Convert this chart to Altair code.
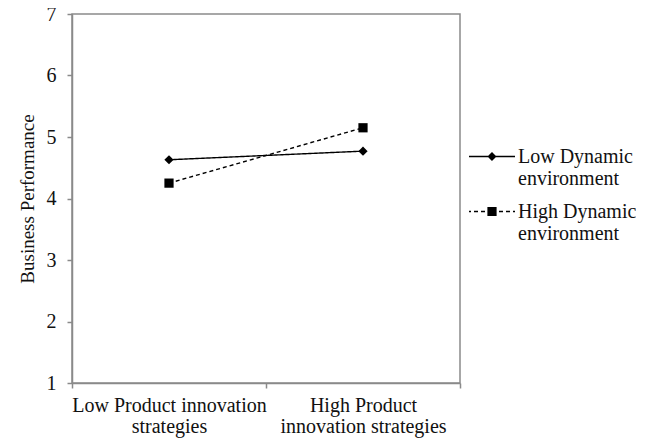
import altair as alt
import pandas as pd

# ---- data ----
categories = ["Low Product innovation|strategies", "High Product|innovation strategies"]
series = ["Low Dynamic|environment", "High Dynamic|environment"]
low_dynamic = [4.63, 4.77]
high_dynamic = [4.25, 5.15]
y_ticks = [1, 2, 3, 4, 5, 6, 7]

rows = []
for s, vals in zip(series, [low_dynamic, high_dynamic]):
    for c, v in zip(categories, vals):
        rows.append({"strategy": c, "series": s, "value": v})
df = pd.DataFrame(rows)

FONT = "Liberation Serif"
GRAY = "#8a8a8a"
TXT = "#111111"

x_enc = alt.X(
    "strategy:N",
    sort=categories,
    bandPosition=0.5,
    scale=alt.Scale(type="band", paddingInner=0, paddingOuter=0),
    axis=alt.Axis(
        title=None,
        tickBand="extent",
        labelAngle=0,
        labelExpr="split(datum.label, '|')",
        labelFont=FONT,
        labelFontSize=20,
        labelColor=TXT,
        labelPadding=7,
        labelLineHeight=21,
        labelLimit=300,
        domainColor=GRAY,
        tickColor=GRAY,
        tickSize=5,
        domainWidth=1.5,
        tickWidth=1.5,
        grid=False,
    ),
)
y_enc = alt.Y(
    "value:Q",
    scale=alt.Scale(domain=[1, 7], nice=False, zero=False),
    axis=alt.Axis(
        title="Business Performance",
        values=y_ticks,
        format="d",
        labelFont=FONT,
        labelFontSize=20,
        labelColor=TXT,
        labelPadding=11,
        titleFont=FONT,
        titleFontSize=19,
        titleFontWeight="normal",
        titleColor=TXT,
        titlePadding=9,
        domainColor=GRAY,
        tickColor=GRAY,
        tickSize=5,
        domainWidth=1.5,
        tickWidth=1.5,
        grid=False,
    ),
)

base = alt.Chart(df)

lines = base.mark_line(color="black", strokeWidth=1.4).encode(
    x=x_enc,
    y=y_enc,
    strokeDash=alt.StrokeDash(
        "series:N",
        sort=series,
        scale=alt.Scale(domain=series, range=[[1, 0], [4, 3]]),
        legend=None,
    ),
    detail="series:N",
)

points = base.mark_point(filled=True, color="black", opacity=1, size=85).encode(
    x=x_enc,
    y=y_enc,
    shape=alt.Shape(
        "series:N",
        scale=alt.Scale(domain=series, range=["diamond", "square"]),
        legend=None,
    ),
)

# ---- legend glyphs (line + marker) built as filled custom symbol paths ----
R = 23.0            # half of the legend glyph width in px (symbol size = (2R)^2)
CY = -6.5 / R       # vertical offset so glyph aligns with first label line
HT = 0.65 / R       # half line thickness


def rect(x0, x1, y0, y1):
    return f"M{x0:.3f},{y0:.3f}L{x1:.3f},{y0:.3f}L{x1:.3f},{y1:.3f}L{x0:.3f},{y1:.3f}Z"


def solid_line():
    return rect(-1, 1, CY - HT, CY + HT)


def dashed_line(dash=4.0, gap=3.0):
    parts = []
    d, g = dash / R, gap / R
    x = 0.0
    segs = []
    while x < 1:
        segs.append((x, min(x + d, 1)))
        x += d + g
    for a, b in segs:
        parts.append(rect(a, b, CY - HT, CY + HT))
        parts.append(rect(-b, -a, CY - HT, CY + HT))
    return "".join(parts)


dm = 4.5 / R
sq = 4.6 / R
diamond_path = solid_line() + (
    f"M0,{CY - dm:.3f}L{dm:.3f},{CY:.3f}L0,{CY + dm:.3f}L{-dm:.3f},{CY:.3f}Z"
)
square_path = dashed_line() + rect(-sq, sq, CY - sq, CY + sq)

legend_layer = base.mark_point(filled=True, color="black", opacity=0).encode(
    x=x_enc,
    y=y_enc,
    shape=alt.Shape(
        "series:N",
        scale=alt.Scale(domain=series, range=[diamond_path, square_path]),
        legend=alt.Legend(
            title=None,
            orient="none",
            legendX=397,
            legendY=126,
            symbolSize=int((2 * R) ** 2),
            symbolOpacity=1,
            symbolFillColor="black",
            symbolStrokeWidth=0,
            labelExpr="split(datum.label, '|')",
            labelFont=FONT,
            labelFontSize=20,
            labelColor=TXT,
            labelBaseline="alphabetic",
            labelOffset=3,
            labelLimit=300,
            rowPadding=6,
        ),
    ),
)

chart = (
    alt.layer(lines, points, legend_layer)
    .resolve_scale(shape="independent", strokeDash="independent")
    .properties(
        width=388,
        height=369,
        padding={"left": 64, "top": 6, "right": 176, "bottom": 58},
        autosize=alt.AutoSizeParams(type="none"),
    )
    .configure(background="white", font=FONT)
    .configure_view(stroke=GRAY, strokeWidth=1.5)
    .configure_axis(labelFont=FONT, titleFont=FONT)
    .configure_legend(labelFont=FONT)
)

chart.save("out.html", embed_options={"renderer": "svg", "actions": False})
